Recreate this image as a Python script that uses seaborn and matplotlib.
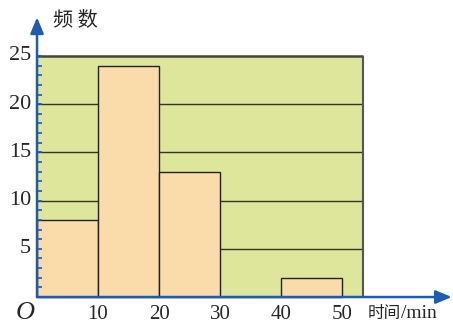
import matplotlib
matplotlib.use("Agg")
import matplotlib.pyplot as plt
import seaborn as sns

# histogram data: time (min) groups and frequency
bin_edges = [0, 10, 20, 30, 40, 50]
bin_mids = [5, 15, 25, 35, 45]
counts = [8, 24, 13, 0, 2]
x_ticks = [10, 20, 30, 40, 50]
y_ticks = [5, 10, 15, 20, 25]

green = "#dde69b"
bar_color = "#f9dcaa"
blue = "#1f5bb0"

sns.set_style("white")
plt.rcParams['font.family'] = ['Liberation Serif', 'Noto Sans CJK SC', 'DejaVu Sans']

fig = plt.figure(figsize=(4.53, 3.25), dpi=100)
ax = fig.add_axes([0, 0, 1, 1])

# green panel with grid lines
x_end = 53.4
ax.fill_between([0, x_end], 0, 25, color=green, zorder=0, lw=0)
ax.hlines(y_ticks[:-1], 0, x_end, color="#333333", lw=1.0, zorder=1)
ax.hlines(25, 0, x_end, color="#444444", lw=1.8, zorder=1)
ax.vlines(x_end, 0, 25, color="#555555", lw=1.5, zorder=1)

# histogram bars
sns.histplot(x=bin_mids, weights=counts, bins=bin_edges, ax=ax,
             color=bar_color, alpha=1, edgecolor="#222222", linewidth=1.0,
             zorder=2)
ax.set_xlim(-6.07, 68.2)
ax.set_ylim(-2.9, 30.8)
ax.axis("off")

# axes with arrows
ax.annotate("", xy=(68.0, 0), xytext=(0, 0),
            arrowprops=dict(arrowstyle="-|>,head_length=0.6,head_width=0.25",
                            color=blue, lw=1.8, mutation_scale=16,
                            shrinkA=0, shrinkB=0), zorder=5)
ax.annotate("", xy=(0, 29.0), xytext=(0, 0),
            arrowprops=dict(arrowstyle="-|>,head_length=0.6,head_width=0.25",
                            color=blue, lw=1.8, mutation_scale=16,
                            shrinkA=0, shrinkB=0), zorder=5)
ax.hlines(range(1, 26), 0, 0.75, color=blue, lw=1.2, zorder=5)

# tick labels
for t in x_ticks:
    ax.text(t, -1.85, str(t), ha="center", va="center", fontsize=15,
            family="Liberation Serif")
for t in y_ticks:
    ax.text(-1.0, t, str(t), ha="right", va="center", fontsize=16,
            family="Liberation Serif")
ax.text(-2.0, -1.65, "O", ha="center", va="center", fontsize=19,
        style="italic", family="Liberation Serif")

ax.text(2.6, 28.8, "频 数", ha="left", va="center", fontsize=14.5,
        family=["Noto Sans CJK SC", "DejaVu Sans"])
ax.text(54.2, -1.75, "时间", ha="left", va="center", fontsize=12,
        family=["Noto Sans CJK SC", "DejaVu Sans"])
ax.text(59.6, -1.75, "/min", ha="left", va="center", fontsize=14,
        family="Liberation Serif")

plt.savefig("out.png", dpi=100)
